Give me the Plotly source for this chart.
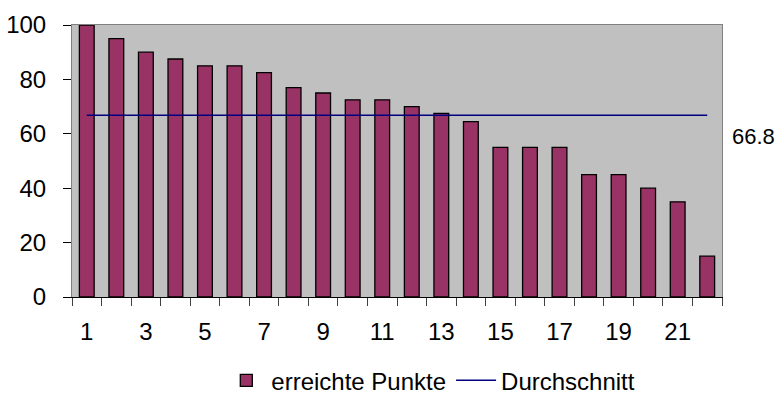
import plotly.graph_objects as go

# Points per participant (sorted descending)
participants = list(range(1, 23))
points = [100, 95, 90, 87.5, 85, 85, 82.5, 77, 75, 72.5, 72.5,
          70, 67.5, 64.5, 55, 55, 55, 45, 45, 40, 35, 15]
x_tick_labels = [1, 3, 5, 7, 9, 11, 13, 15, 17, 19, 21]
y_ticks = [0, 20, 40, 60, 80, 100]

average = round(sum(points) / len(points), 1)

FONT = "Liberation Sans, Arial, sans-serif"
SIZE = 24

fig = go.Figure()

fig.add_trace(go.Bar(
    x=participants, y=points, name="erreichte Punkte",
    marker=dict(color="#993366", line=dict(color="#000000", width=1.3)),
    width=0.5,
))

fig.add_trace(go.Scatter(
    x=participants, y=[average] * len(participants), name="Durchschnitt",
    mode="lines",
    line=dict(color="#000080", width=1.5),
))

# second x axis only carries tick marks between the categories
fig.add_trace(go.Scatter(x=[0.5], y=[None], xaxis="x2", showlegend=False,
                         hoverinfo="skip"))

fig.add_annotation(
    x=1.0, xref="paper", xshift=8, xanchor="left",
    y=average, yref="y", yshift=-21, yanchor="middle",
    text=f"{average}", showarrow=False,
    font=dict(family=FONT, size=22, color="#000000"),
)

fig.update_layout(
    width=776, height=410,
    margin=dict(l=72, r=54, t=25, b=113, autoexpand=False),
    paper_bgcolor="#FFFFFF",
    plot_bgcolor="#C0C0C0",
    font=dict(family=FONT, size=SIZE, color="#000000"),
    bargap=0.5,
    showlegend=True,
    legend=dict(orientation="h", x=0.552, xanchor="center", y=-0.225,
                yanchor="top", font=dict(family=FONT, size=SIZE),
                itemwidth=40, tracegroupgap=0),
    xaxis=dict(
        range=[0.5, 22.5], tickmode="array", tickvals=x_tick_labels,
        ticktext=[str(v) for v in x_tick_labels],
        ticks="", showgrid=False, zeroline=False, automargin=False,
        showline=True, linecolor="#808080", linewidth=1, mirror=True,
        ticklabelstandoff=13,
    ),
    xaxis2=dict(
        range=[0.5, 22.5], overlaying="x", side="bottom", automargin=False,
        tickmode="array", tickvals=[i + 0.5 for i in range(0, 23)],
        ticks="outside", ticklen=8, tickcolor="#404040", tickwidth=1,
        showticklabels=False, showgrid=False, zeroline=False,
        showline=True, linecolor="#000000", linewidth=1,
    ),
    yaxis=dict(
        range=[0, 100], tickmode="array", tickvals=y_ticks,
        ticks="outside", ticklen=8, tickcolor="#000000", tickwidth=1,
        showgrid=False, zeroline=False, ticklabelstandoff=12,
        automargin=False,
        showline=True, linecolor="#808080", linewidth=1, mirror=True,
    ),
)

fig.write_html("out.html")
